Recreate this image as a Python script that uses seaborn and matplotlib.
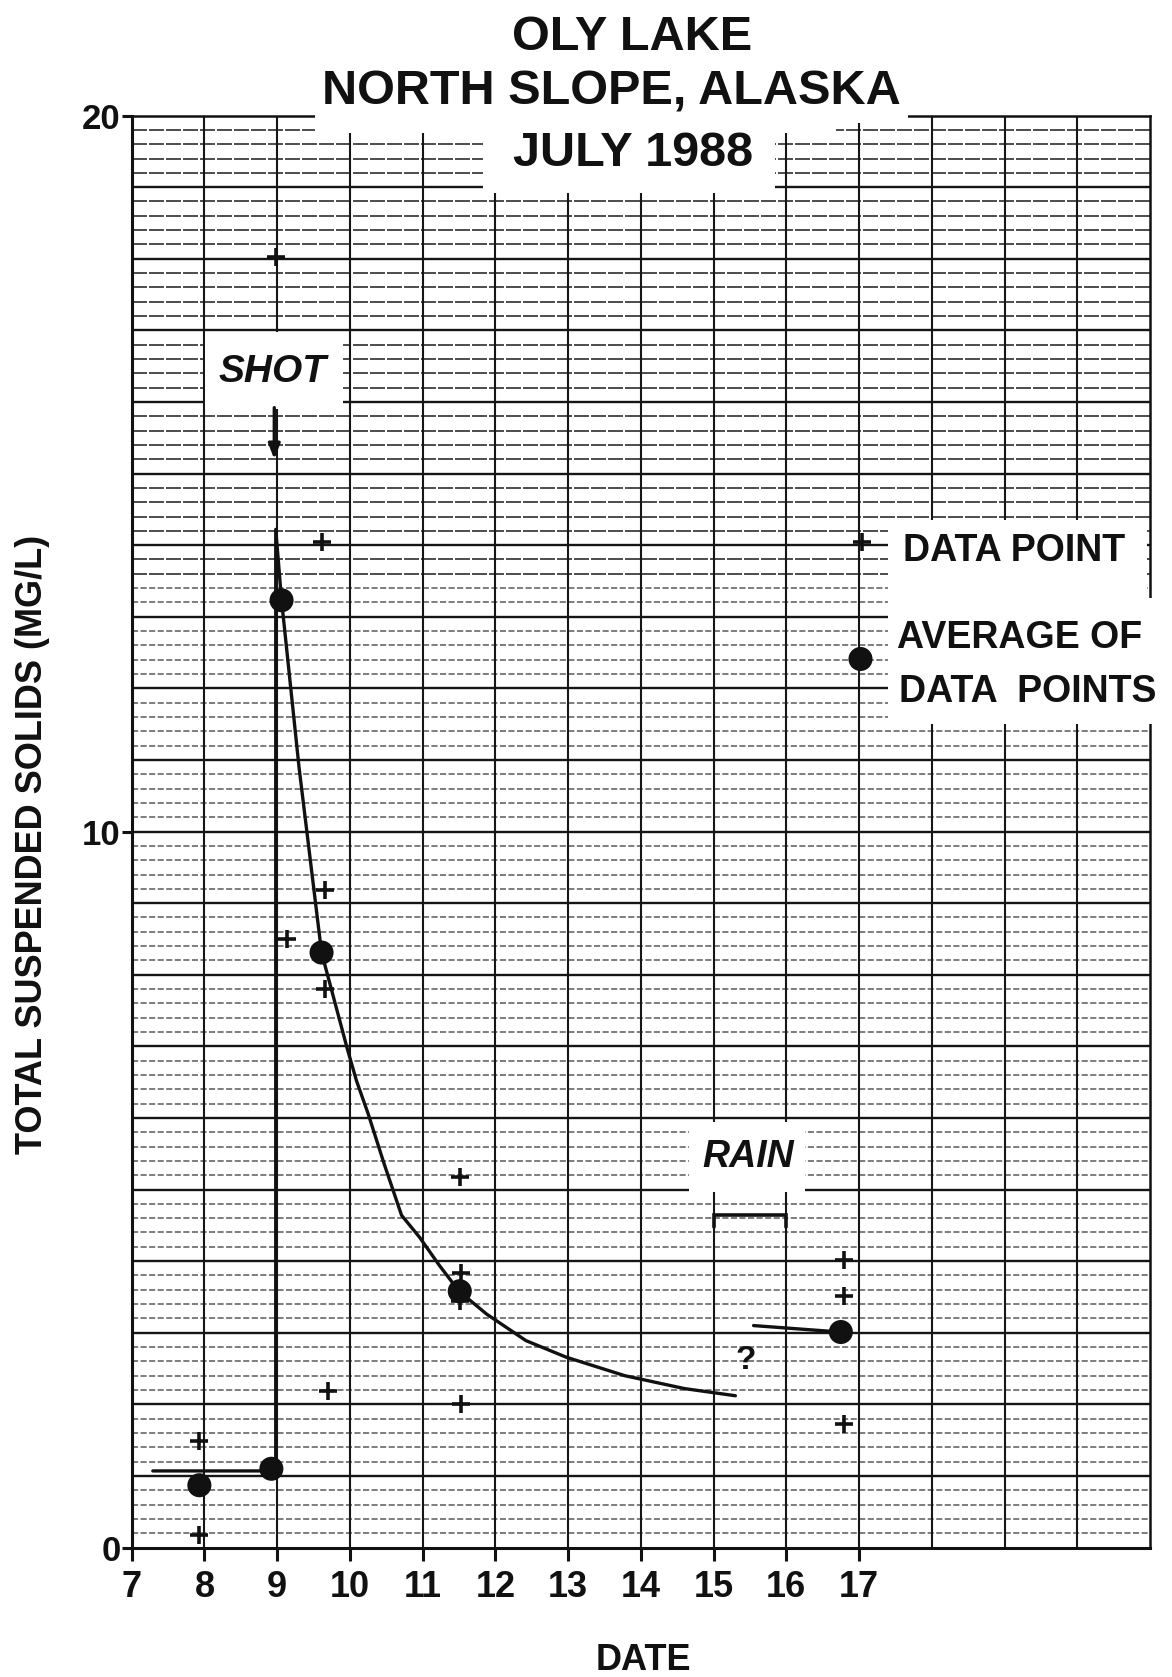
import numpy as np
import pandas as pd
import matplotlib
matplotlib.use("Agg")
import matplotlib.pyplot as plt
import seaborn as sns
from matplotlib.patches import Rectangle

# ---------------- data ----------------
title_lines = ["OLY LAKE", "NORTH SLOPE, ALASKA", "JULY 1988"]
x_label = "DATE"
y_label = "TOTAL SUSPENDED SOLIDS (MG/L)"
x_ticks = [7, 8, 9, 10, 11, 12, 13, 14, 15, 16, 17]
y_ticks = [0, 10, 20]

# individual data points (+)
pt_date = [7.93, 7.93, 8.98, 9.61, 9.66, 9.13, 9.66, 9.70, 11.52, 11.53, 11.52, 11.53, 16.80, 16.80, 16.80]
pt_tss = [1.49, 0.18, 18.03, 14.04, 9.19, 8.50, 7.80, 2.18, 5.18, 3.83, 3.45, 2.01, 4.01, 3.51, 1.73]

# averages of data points (filled circles)
avg_date = [7.93, 8.92, 9.06, 9.61, 11.51, 16.75]
avg_tss = [0.87, 1.10, 13.23, 8.31, 3.58, 3.01]

# hand-drawn trend curve (pre-shot level, spike, decay)
curve_date = [7.29, 8.98, 8.98, 9.06, 9.30, 9.61, 9.96, 10.09, 10.25, 10.47, 10.71,
              10.96, 11.23, 11.50, 11.88, 12.42, 12.97, 13.78, 14.60, 15.30]
curve_tss = [1.07, 1.07, 14.22, 13.23, 10.90, 8.31, 6.98, 6.52, 6.06, 5.36, 4.64,
             4.33, 3.94, 3.58, 3.26, 2.89, 2.66, 2.40, 2.22, 2.12]

# post-rain segment
post_date = [15.55, 16.74]
post_tss = [3.10, 3.01]

# rain period bracket
rain_start, rain_end, rain_level = 15.0, 16.0, 4.64

# shot event
shot_date = 8.96

# ---------------- figure ----------------
sns.set_style("white")
plt.rcParams['font.family'] = ['Liberation Sans', 'DejaVu Sans']
plt.rcParams['font.weight'] = 'bold'
INK = '#111111'

fig = plt.figure(figsize=(11.72, 16.77), dpi=100)
fig.patch.set_facecolor('white')
ax = fig.add_axes([0.1124, 0.0772, 0.8688, 0.8539])
ax.set_xlim(7, 21)
ax.set_ylim(0, 20)

# graph-paper grid (darker in the upper part of the copy)
minor = np.arange(0.2, 20, 0.2)
minor = minor[np.abs(minor - np.round(minor)) > 1e-6]
ax.hlines(minor[minor > 13.5], 7, 21, colors='#2e2e2e', linewidth=1.2,
          linestyles=(0, (9, 1.2)), zorder=1)
ax.hlines(minor[minor < 13.5], 7, 21, colors='#5a5a5a', linewidth=1.1,
          linestyles=(0, (4, 1.6)), zorder=1)
ax.hlines(np.arange(1, 20, 1), 7, 21, colors='#161616', linewidth=1.7, zorder=1.1)
ax.vlines(np.arange(8, 21, 1), 0, 20, colors='#161616', linewidth=1.5, zorder=1.1)

for s in ['left', 'bottom']:
    ax.spines[s].set_linewidth(2.2)
    ax.spines[s].set_color(INK)
for s in ['top', 'right']:
    ax.spines[s].set_linewidth(1.8)
    ax.spines[s].set_color(INK)

# white label boxes (paper cut-outs)
boxes = [(9.52, 16.69, 19.75, 21.2), (16.69, 17.67, 19.9, 21.2),
         (11.83, 15.84, 18.92, 19.75), (8.01, 9.91, 15.9, 16.97),
         (14.66, 16.26, 4.97, 5.95), (17.4, 20.96, 13.26, 14.35),
         (17.4, 21.5, 11.5, 13.26)]
for x0, x1, y0, y1 in boxes:
    ax.add_patch(Rectangle((x0, y0), x1 - x0, y1 - y0, facecolor='white',
                           edgecolor='none', zorder=3, clip_on=False))

# data
curve_df = pd.DataFrame({'date': curve_date, 'tss': curve_tss})
sns.lineplot(data=curve_df, x='date', y='tss', sort=False, estimator=None,
             color=INK, linewidth=2.4, ax=ax, zorder=4)
post_df = pd.DataFrame({'date': post_date, 'tss': post_tss})
sns.lineplot(data=post_df, x='date', y='tss', sort=False, estimator=None,
             color=INK, linewidth=2.4, ax=ax, zorder=4)

pt_df = pd.DataFrame({'date': pt_date, 'tss': pt_tss})
sns.scatterplot(data=pt_df, x='date', y='tss', marker='+', s=170, color=INK,
                linewidth=2.6, ax=ax, zorder=5)
avg_df = pd.DataFrame({'date': avg_date, 'tss': avg_tss})
sns.scatterplot(data=avg_df, x='date', y='tss', marker='o', s=300, color=INK,
                edgecolor='none', ax=ax, zorder=5)

# rain bracket
ax.plot([rain_start, rain_start, rain_end, rain_end],
        [rain_level - 0.17, rain_level, rain_level, rain_level - 0.17],
        color=INK, linewidth=2.6, zorder=5, solid_joinstyle='miter')
ax.text((rain_start + rain_end) / 2 - 0.03, 5.46, "RAIN", fontsize=27,
        fontweight='bold', fontstyle='italic', ha='center', va='center',
        color=INK, zorder=6)
ax.text(15.44, 2.61, "?", fontsize=24, fontweight='bold', ha='center',
        va='center', color=INK, zorder=6)

# shot annotation
ax.text(8.94, 16.42, "SHOT", fontsize=28, fontweight='bold', fontstyle='italic',
        ha='center', va='center', color=INK, zorder=6)
ax.annotate("", xy=(shot_date, 15.2), xytext=(shot_date, 15.92),
            arrowprops=dict(arrowstyle='-|>,head_length=0.9,head_width=0.35',
                            color=INK, linewidth=2.4, shrinkA=0, shrinkB=0),
            zorder=6)

# legend (hand-drawn style)
ax.scatter([17.04], [14.04], marker='+', s=170, color=INK, linewidth=2.6,
           zorder=5, clip_on=False)
ax.scatter([17.02], [12.41], marker='o', s=300, color=INK, edgecolor='none',
           zorder=5, clip_on=False)
ax.text(17.60, 13.92, "DATA POINT", fontsize=27, ha='left', va='center',
        color=INK, zorder=6, clip_on=False)
ax.text(17.52, 12.71, "AVERAGE OF", fontsize=27, ha='left', va='center',
        color=INK, zorder=6, clip_on=False)
ax.text(17.55, 11.95, "DATA  POINTS", fontsize=27, ha='left', va='center',
        color=INK, zorder=6, clip_on=False)

# title
ax.text(13.88, 20.91, title_lines[0], fontsize=35, ha='center', va='baseline',
        color=INK, zorder=6, clip_on=False)
ax.text(13.60, 20.15, title_lines[1], fontsize=35, ha='center', va='baseline',
        color=INK, zorder=6, clip_on=False)
ax.text(13.89, 19.30, title_lines[2], fontsize=35, ha='center', va='baseline',
        color=INK, zorder=6, clip_on=False)

# axes ticks and labels
ax.set_xticks(x_ticks)
ax.set_xticklabels([str(t) for t in x_ticks])
ax.set_yticks(y_ticks)
ax.set_yticklabels([str(t) for t in y_ticks])
ax.tick_params(axis='x', direction='out', length=9, width=2.2, pad=7,
               labelsize=26, colors=INK, bottom=True)
ax.tick_params(axis='y', direction='out', length=7, width=2.2, pad=1,
               labelsize=25, colors=INK, left=True)
ax.set_xlabel("")
ax.set_ylabel("")
fig.text(643 / 1172, 1 - 1660 / 1677, x_label, fontsize=26, ha='center',
         va='center', color=INK)
fig.text(33 / 1172, 1 - 844 / 1677, y_label, fontsize=26, ha='center',
         va='center', rotation=90, color=INK)

fig.savefig("out.png", dpi=100, facecolor='white')
